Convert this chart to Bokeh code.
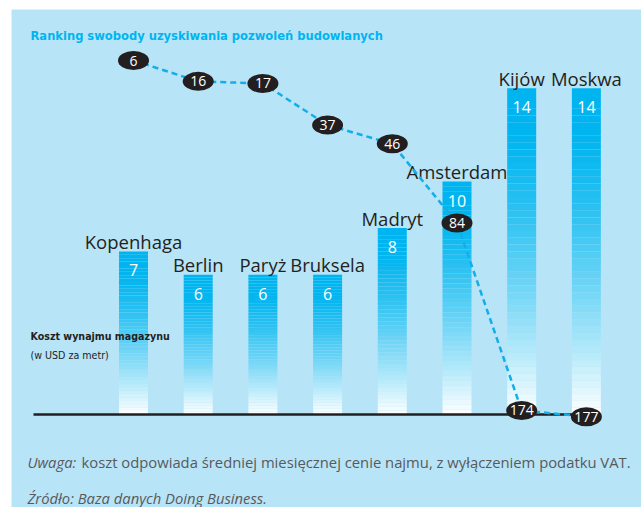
from bokeh.plotting import figure
from bokeh.models import Range1d, Label, ColumnDataSource
from bokeh.core.properties import value
from bokeh.embed import file_html
from bokeh.resources import INLINE

# ---- data ----
cities = ["Kopenhaga", "Berlin", "Paryż", "Bruksela", "Madryt", "Amsterdam", "Kijów", "Moskwa"]
rent_cost = [7, 6, 6, 6, 8, 10, 14, 14]
permit_rank = [6, 16, 17, 37, 46, 84, 174, 177]

title_text = "Ranking swobody uzyskiwania pozwoleń budowlanych"
ylabel_1 = "Koszt wynajmu magazynu"
ylabel_2 = "(w USD za metr)"
note_label = "Uwaga:"
note_text = "koszt odpowiada średniej miesięcznej cenie najmu, z wyłączeniem podatku VAT."
source_text = "Źródło: Baza danych Doing Business."

BG = "#b8e4f8"
CYAN = "#00b5ef"
DARK = "#231f20"
GRAY = "#58595b"
FONT = "Open Sans"
NARROW = "DejaVu Sans Condensed, Roboto"

xs = list(range(len(cities)))

p = figure(width=641, height=507, output_backend="svg", toolbar_location=None,
           x_axis_type=None, y_axis_type=None,
           x_range=Range1d(-1.886, 7.852), y_range=Range1d(-3.991, 17.382),
           min_border_left=11, min_border_top=9, min_border_right=0, min_border_bottom=0)
p.background_fill_color = BG
p.border_fill_color = "white"
p.outline_line_color = None
p.grid.visible = False
p.extra_y_ranges = {"rank": Range1d(start=220.6, end=-18.5)}

# ---- gradient bars (stacked thin slices, cyan top -> white bottom) ----
N = 48
def mix(t):
    t = min(max(t, 0.0), 1.0)
    c0 = (0, 181, 239)
    c1 = (255, 255, 255)
    return "#%02x%02x%02x" % tuple(int(round(a + (b - a) * t)) for a, b in zip(c0, c1))

bx, bb, bt, bc = [], [], [], []
for x, v in zip(xs, rent_cost):
    for k in range(N):
        top = v * (1 - k / N)
        bot = v * (1 - (k + 1) / N)
        frac = (k + 0.5) / N
        t = max(0.0, (frac - 0.12) / 0.88) ** 1.4
        bx.append(x); bt.append(top); bb.append(bot); bc.append(mix(t))
p.vbar(x=bx, top=bt, bottom=bb, width=29 / 64.7, fill_color=bc, line_color=None)

# baseline
p.segment(x0=[-1.546], x1=[7.06], y0=[0], y1=[0], line_color=DARK, line_width=2.5)

src = ColumnDataSource(dict(x=xs, cost=rent_cost, rank=permit_rank,
                            city=cities, cost_lbl=[str(v) for v in rent_cost],
                            rank_lbl=[str(r) for r in permit_rank]))

# city labels
p.text(x="x", y="cost", text="city", source=src, text_align="center",
       text_baseline="alphabetic", y_offset=-10, text_font=value(FONT),
       text_font_size="18.5px", text_color=DARK)
# value labels
p.text(x="x", y="cost", text="cost_lbl", source=src, text_align="center",
       text_baseline="middle", y_offset=19, text_font=value(FONT),
       text_font_size="16px", text_color="white")

# ranking dashed line + ellipses
p.line(x="x", y="rank", source=src, y_range_name="rank", line_color="#12aee9",
       line_width=2.5, line_dash="6 4")
p.ellipse(x="x", y="rank", source=src, y_range_name="rank", width=31, height=19,
          width_units="screen", height_units="screen", fill_color=DARK, line_color=None)
p.text(x="x", y="rank", text="rank_lbl", source=src, y_range_name="rank",
       text_align="center", text_baseline="middle", text_font=value(FONT),
       text_font_size="14px", text_color="white")

# texts
p.add_layout(Label(x=19, y=472, x_units="screen", y_units="screen", text=title_text,
                   text_font=NARROW, text_font_style="bold", text_font_size="12.8px",
                   text_color=CYAN, text_baseline="middle"))
p.add_layout(Label(x=19, y=172, x_units="screen", y_units="screen", text=ylabel_1,
                   text_font=NARROW, text_font_style="bold", text_font_size="10.6px",
                   text_color=DARK, text_baseline="middle"))
p.add_layout(Label(x=19, y=153, x_units="screen", y_units="screen", text=ylabel_2,
                   text_font=NARROW, text_font_size="10.6px",
                   text_color=DARK, text_baseline="middle"))
p.add_layout(Label(x=16, y=46, x_units="screen", y_units="screen", text=note_label,
                   text_font=FONT, text_font_style="italic", text_font_size="14.8px",
                   text_color=GRAY, text_baseline="middle"))
p.add_layout(Label(x=70, y=46, x_units="screen", y_units="screen", text=note_text,
                   text_font=FONT, text_font_size="14.8px",
                   text_color=GRAY, text_baseline="middle"))
p.add_layout(Label(x=16, y=10, x_units="screen", y_units="screen", text=source_text,
                   text_font=FONT, text_font_style="italic", text_font_size="14.8px",
                   text_color=GRAY, text_baseline="middle"))

open("out.html", "w").write(file_html(p, INLINE))
